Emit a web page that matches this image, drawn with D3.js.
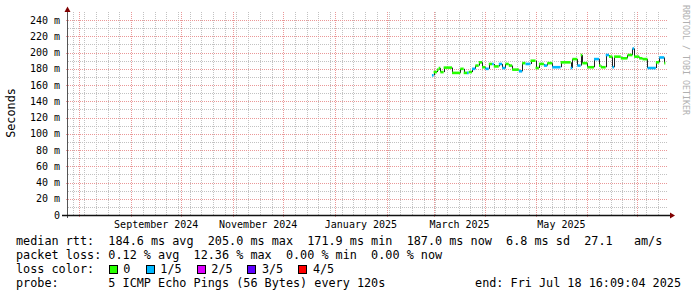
<!DOCTYPE html>
<html>
<head>
<meta charset="utf-8">
<script src="https://cdn.jsdelivr.net/npm/d3@7"></script>
<style>
  html, body { margin: 0; padding: 0; background: #fff; }
  svg text { font-family: "DejaVu Sans Mono", monospace; fill: #000; white-space: pre; }
</style>
</head>
<body>
<svg id="chart" width="697" height="297"></svg>
<script>
// ── Data ─────────────────────────────────────────────────────────────
const rangeStart = '2024-07-24T14:00:00';
const rangeEnd = '2025-07-18T16:09:04';

const yTicks = [0, 20, 40, 60, 80, 100, 120, 140, 160, 180, 200, 220, 240];

const monthTicks = ['2024-09-01', '2024-11-01', '2025-01-01', '2025-03-01', '2025-05-01'];
const monthLabels = ['September 2024', 'November 2024', 'January 2025', 'March 2025', 'May 2025'];

// median rtt steps (ms) and lost pings out of 5
const stepDates = [
  '2025-02-28', '2025-03-01', '2025-03-03', '2025-03-04', '2025-03-05', '2025-03-07',
  '2025-03-12', '2025-03-17', '2025-03-19', '2025-03-21', '2025-03-22', '2025-03-24',
  '2025-03-26', '2025-03-28', '2025-03-30', '2025-04-01', '2025-04-03', '2025-04-05',
  '2025-04-06', '2025-04-09', '2025-04-11', '2025-04-13', '2025-04-15', '2025-04-17',
  '2025-04-21', '2025-04-23', '2025-04-25', '2025-04-28', '2025-05-01', '2025-05-03',
  '2025-05-06', '2025-05-08', '2025-05-11', '2025-05-16', '2025-05-22', '2025-05-23',
  '2025-05-26', '2025-05-28', '2025-05-29', '2025-06-01', '2025-06-05', '2025-06-08',
  '2025-06-09', '2025-06-12', '2025-06-14', '2025-06-16', '2025-06-17', '2025-06-21',
  '2025-06-25', '2025-06-28', '2025-06-29', '2025-07-02', '2025-07-04', '2025-07-07',
  '2025-07-12', '2025-07-14', '2025-07-17'
];
const medianMs = [
  172, 176, 179, 181, 176, 181.5,
  175, 180, 175, 175, 176, 180,
  184, 188, 182, 180, 186, 186,
  183, 186, 181, 186, 184, 179,
  177, 187, 186, 190, 181, 186,
  184, 187, 182, 188, 181, 192,
  184, 197, 187, 182, 192, 184,
  182, 197, 195, 182, 195, 193,
  197, 205, 195, 193, 192, 181,
  188, 194, 187
];
const lostPings = [
  1, 0, 0, 0, 0, 0,
  0, 0, 0, 1, 0, 1,
  0, 0, 0, 1, 0, 1,
  0, 1, 1, 0, 0, 0,
  1, 0, 1, 0, 0, 0,
  1, 0, 1, 0, 1, 0,
  1, 0, 0, 0, 1, 0,
  0, 1, 0, 1, 0, 0,
  0, 1, 0, 0, 0, 1,
  0, 1, 0
];

const lossNames = ['0', '1/5', '2/5', '3/5', '4/5'];
const lossColors = ['#26ff00', '#00b8ff', '#dd00ff', '#5e00ff', '#ff0000'];

const legendLines = [
  'median rtt:  184.6 ms avg  205.0 ms max  171.9 ms min  187.0 ms now  6.8 ms sd  27.1   am/s',
  'packet loss: 0.12 % avg  12.36 % max  0.00 % min  0.00 % now',
  'loss color:',
  'probe:       5 ICMP Echo Pings (56 Bytes) every 120s'
];
const endLabel = 'end: Fri Jul 18 16:09:04 2025';

// ── Layout ───────────────────────────────────────────────────────────
const PLOT = {left: 67, right: 667, top: 12, bottom: 215};
const GRID_GRAY = '#c2c2c2';
const GRID_RED = '#ea9898';
const ARROW = '#800000';
const LEGEND_FONT = '11.8px';

const parse = d3.isoParse;
const svg = d3.select('#chart');

const x = d3.scaleTime()
  .domain([parse(rangeStart), parse(rangeEnd)])
  .range([PLOT.left, PLOT.right]);

const y = d3.scaleLinear()
  .domain([0, 250])
  .range([PLOT.bottom, PLOT.top]);

// ── Dot patterns for the grid ────────────────────────────────────────
const defs = svg.append('defs');
const makePattern = (id, color, vertical) =>
{
  const pattern = defs.append('pattern')
    .attr('id', id)
    .attr('patternUnits', 'userSpaceOnUse')
    .attr('width', vertical ? 1 : 2)
    .attr('height', vertical ? 2 : 1);
  pattern.append('rect').attr('width', 1).attr('height', 1).attr('fill', color);
};
makePattern('vGray', GRID_GRAY, true);
makePattern('vRed', GRID_RED, true);
makePattern('hGray', GRID_GRAY, false);
makePattern('hRed', GRID_RED, false);

// ── Grid ─────────────────────────────────────────────────────────────
const grid = svg.append('g').attr('shape-rendering', 'crispEdges');
const [domainStart, domainEnd] = x.domain();

const hLines = (values, pattern, x0) =>
{
  grid.append('g')
    .selectAll('rect')
    .data(values)
    .join('rect')
    .attr('x', x0)
    .attr('y', (v) => Math.round(y(v)))
    .attr('width', PLOT.right - x0)
    .attr('height', 1)
    .attr('fill', `url(#${pattern})`);
};

const vLines = (dates, pattern, y1) =>
{
  grid.append('g')
    .selectAll('rect')
    .data(dates)
    .join('rect')
    .attr('x', (d) => Math.round(x(d)))
    .attr('y', PLOT.top)
    .attr('width', 1)
    .attr('height', y1 - PLOT.top)
    .attr('fill', `url(#${pattern})`);
};

// minor: every 10 ms and every week
hLines(d3.range(10, 250, 20), 'hGray', PLOT.left);
vLines(d3.timeSunday.range(domainStart, domainEnd), 'vGray', PLOT.bottom);
// major: every 20 ms and every month
hLines(yTicks.filter((v) => v > 0), 'hRed', PLOT.left - 2);
vLines(d3.timeMonth.range(d3.timeMonth.ceil(domainStart), domainEnd), 'vRed', PLOT.bottom + 3);

// ── Axes ─────────────────────────────────────────────────────────────
svg.append('g')
  .selectAll('text')
  .data(yTicks)
  .join('text')
  .attr('x', 60)
  .attr('y', (v) => y(v) + 3.5)
  .attr('text-anchor', 'end')
  .attr('font-size', '10px')
  .text((v) => (v === 0 ? '0' : `${v} m`));

svg.append('g')
  .selectAll('text')
  .data(monthTicks)
  .join('text')
  .attr('x', (d) =>
  {
    const start = parse(d);
    return (x(start) + x(d3.timeMonth.offset(start, 1))) / 2;
  })
  .attr('y', 228)
  .attr('text-anchor', 'middle')
  .attr('font-size', '10px')
  .text((d, i) => monthLabels[i]);

svg.append('line')
  .attr('x1', PLOT.left + 0.5).attr('x2', PLOT.left + 0.5)
  .attr('y1', PLOT.bottom + 3).attr('y2', 10)
  .attr('stroke', '#555').attr('stroke-width', 1);
svg.append('line')
  .attr('x1', PLOT.left - 5).attr('x2', 670)
  .attr('y1', PLOT.bottom + 0.5).attr('y2', PLOT.bottom + 0.5)
  .attr('stroke', '#111').attr('stroke-width', 1.3);
svg.append('path')
  .attr('d', `M670,${PLOT.bottom - 2.5}L675,${PLOT.bottom + 0.5}L670,${PLOT.bottom + 3.5}Z`)
  .attr('fill', ARROW);
svg.append('path')
  .attr('d', `M${PLOT.left - 2.5},12L${PLOT.left + 0.5},6.5L${PLOT.left + 3.5},12Z`)
  .attr('fill', ARROW);

// ── Median line ──────────────────────────────────────────────────────
const steps = stepDates.map((d, i) => ({
  start: parse(d),
  end: i + 1 < stepDates.length ? parse(stepDates[i + 1]) : d3.timeHour.offset(parse(rangeEnd), -24),
  value: medianMs[i],
  loss: lostPings[i]
}));

const snap = (v) => Math.round(v) + 0.5;
const marks = svg.append('g');

marks.selectAll('.riser')
  .data(steps.slice(1))
  .join('line')
  .attr('class', 'riser')
  .attr('x1', (d) => snap(x(d.start)))
  .attr('x2', (d) => snap(x(d.start)))
  .attr('y1', (d, i) => y(steps[i].value))
  .attr('y2', (d) => y(d.value))
  .attr('stroke', '#222')
  .attr('stroke-width', 1);

marks.selectAll('.tread')
  .data(steps)
  .join('line')
  .attr('class', 'tread')
  .attr('x1', (d) => x(d.start))
  .attr('x2', (d) => x(d.end))
  .attr('y1', (d) => y(d.value))
  .attr('y2', (d) => y(d.value))
  .attr('stroke', (d) => lossColors[d.loss])
  .attr('stroke-width', 2.6);

// ── Titles ───────────────────────────────────────────────────────────
svg.append('text')
  .attr('transform', 'translate(15,113) rotate(-90)')
  .attr('text-anchor', 'middle')
  .attr('font-size', LEGEND_FONT)
  .text('Seconds');

svg.append('text')
  .attr('transform', 'translate(683,5) rotate(90)')
  .attr('font-size', '8.3px')
  .style('fill', '#b0b0b0')
  .text('RRDTOOL / TOBI OETIKER');

// ── Legend ───────────────────────────────────────────────────────────
const legend = svg.append('g').attr('font-size', LEGEND_FONT);
const LINE_Y = [245, 259, 273, 287];

legend.selectAll('text.line')
  .data(legendLines)
  .join('text')
  .attr('class', 'line')
  .attr('x', 16)
  .attr('y', (d, i) => LINE_Y[i])
  .text((d) => d);

legend.append('text')
  .attr('x', 681)
  .attr('y', LINE_Y[3])
  .attr('text-anchor', 'end')
  .text(endLabel);

const swatchX = [108.7, 145.7, 196.7, 247.3, 298.3];
lossNames.forEach((name, i) =>
{
  legend.append('rect')
    .attr('x', Math.round(swatchX[i]) + 0.5)
    .attr('y', 265.5)
    .attr('width', 8)
    .attr('height', 8)
    .attr('fill', lossColors[i])
    .attr('stroke', '#000')
    .attr('stroke-width', 1);
  legend.append('text')
    .attr('x', swatchX[i] + 14.6)
    .attr('y', LINE_Y[2])
    .text(name);
});
</script>
</body>
</html>
